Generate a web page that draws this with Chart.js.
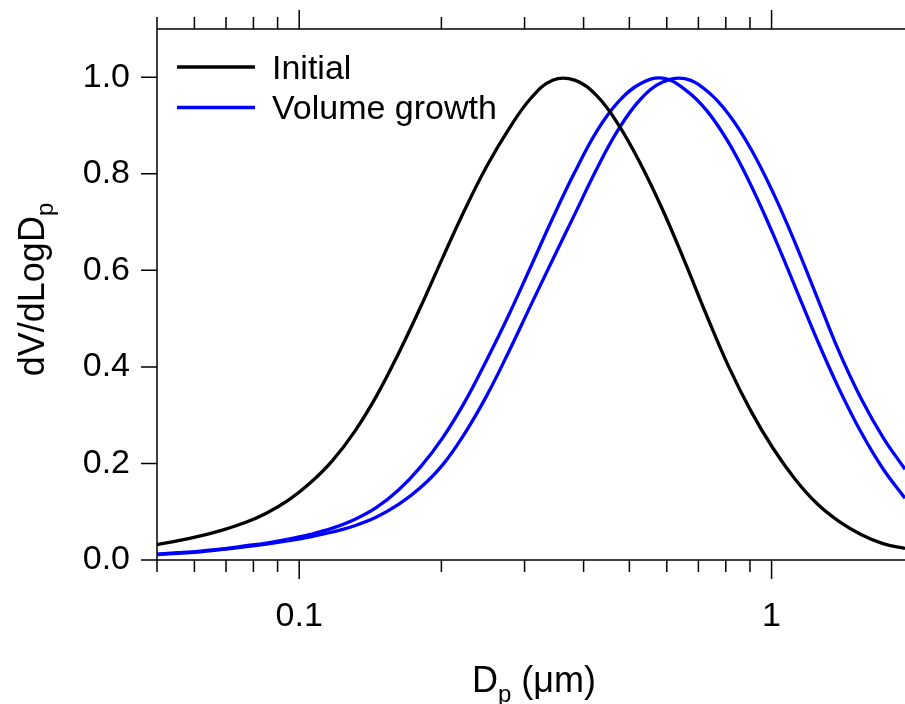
<!DOCTYPE html>
<html>
<head>
<meta charset="utf-8">
<script src="https://cdn.jsdelivr.net/npm/chart.js@4.4.1/dist/chart.umd.min.js"></script>
<style>
  html, body { margin: 0; padding: 0; background: #fff; }
  #wrap { width: 905px; height: 704px; position: relative; }
</style>
</head>
<body>
<div id="wrap"><canvas id="sizeDist"></canvas></div>
<script>
// Dp in um (evenly spaced in log), dV/dlogDp normalised to peak = 1
const dpGrid = [0.05, 0.0555, 0.0618, 0.0688, 0.0766, 0.0852, 0.0949, 0.1056, 0.1176, 0.131,
    0.1458, 0.1623, 0.1807, 0.2012, 0.224, 0.2493, 0.2776, 0.309, 0.344, 0.383,
    0.4264, 0.4747, 0.5285, 0.5883, 0.655, 0.7292, 0.8118, 0.9038, 1.0064, 1.1205,
    1.2474, 1.3888, 1.5461, 1.7213, 1.9163];

const initialVol = [0.032, 0.040, 0.050, 0.062, 0.077, 0.097, 0.124, 0.160, 0.206, 0.266,
    0.340, 0.428, 0.524, 0.626, 0.725, 0.815, 0.892, 0.956, 0.994, 0.994,
    0.962, 0.901, 0.820, 0.725, 0.618, 0.506, 0.400, 0.309, 0.232, 0.168,
    0.117, 0.080, 0.053, 0.034, 0.024];

// volume growth, smaller shift
const growthVol = [0.012, 0.015, 0.0185, 0.023, 0.029, 0.035, 0.043, 0.053, 0.066, 0.084,
    0.109, 0.145, 0.193, 0.253, 0.327, 0.414, 0.507, 0.607, 0.708, 0.803,
    0.888, 0.950, 0.987, 0.998, 0.975, 0.931, 0.864, 0.777, 0.676, 0.567,
    0.457, 0.355, 0.265, 0.189, 0.128];

// volume growth, larger shift
const growthVol2 = [0.011, 0.014, 0.017, 0.022, 0.027, 0.033, 0.040, 0.048, 0.058, 0.071,
    0.089, 0.115, 0.150, 0.197, 0.262, 0.340, 0.431, 0.527, 0.622, 0.716,
    0.810, 0.893, 0.955, 0.990, 0.997, 0.972, 0.923, 0.852, 0.762, 0.658,
    0.545, 0.432, 0.335, 0.254, 0.188];

const xLabelTicks = [0.1, 1];
const yTicks = [0, 0.2, 0.4, 0.6, 0.8, 1.0];

const FONT = '"Liberation Sans", Arial, Helvetica, sans-serif';

function pts(xs, ys) {
    return xs.map((v, i) => ({ x: v, y: ys[i] }));
}

// 1..9 x 10^n inside the axis range, 1 x 10^n flagged as major
function logTicks(min, max) {
    const out = [];
    for (let e = Math.floor(Math.log10(min)); e <= Math.ceil(Math.log10(max)); e++) {
        for (let k = 1; k <= 9; k++) {
            const v = parseFloat((k * Math.pow(10, e)).toPrecision(6));
            if (v >= min - 1e-9 && v <= max + 1e-9) out.push({ value: v, major: k === 1 });
        }
    }
    return out;
}

// Igor-style box: left/bottom/top axes with outside ticks, titles, legend
const igorFrame = {
    id: 'igorFrame',
    afterDraw(chart) {
        const { ctx, chartArea: a, scales: { x, y } } = chart;
        ctx.save();
        ctx.strokeStyle = '#000';
        ctx.lineWidth = 1.5;

        ctx.beginPath();
        ctx.moveTo(a.left, a.top);
        ctx.lineTo(a.left, a.bottom);
        ctx.moveTo(a.left - 16, a.bottom);
        ctx.lineTo(a.right, a.bottom);
        ctx.moveTo(a.left, a.top);
        ctx.lineTo(a.right, a.top);

        x.ticks.forEach(t => {
            const px = x.getPixelForValue(t.value);
            const len = t.major ? 19 : 12;
            ctx.moveTo(px, a.bottom);
            ctx.lineTo(px, a.bottom + len);
            ctx.moveTo(px, a.top);
            ctx.lineTo(px, a.top - len);
        });
        y.ticks.forEach(t => {
            const py = y.getPixelForValue(t.value);
            ctx.moveTo(a.left - 16, py);
            ctx.lineTo(a.left, py);
        });
        ctx.stroke();

        ctx.fillStyle = '#000';
        ctx.textAlign = 'left';
        ctx.textBaseline = 'alphabetic';

        // y title, rotated, with subscript p
        const big = '36px ' + FONT, small = '24px ' + FONT;
        ctx.font = big;
        const yMain = 'dV/dLogD';
        const wMain = ctx.measureText(yMain).width;
        ctx.font = small;
        const wSub = ctx.measureText('p').width;
        ctx.save();
        ctx.translate(44, (a.top + a.bottom) / 2 - 5 + (wMain + wSub) / 2);
        ctx.rotate(-Math.PI / 2);
        ctx.font = big;
        ctx.fillText(yMain, 0, 0);
        ctx.font = small;
        ctx.fillText('p', wMain, 9);
        ctx.restore();

        // x title: D_p (um)
        ctx.font = big;
        const wD = ctx.measureText('D').width;
        const wRest = ctx.measureText(' (\u03bcm)').width;
        const tx = 534 - (wD + wSub + wRest) / 2;
        const ty = 692;
        ctx.fillText('D', tx, ty);
        ctx.font = small;
        ctx.fillText('p', tx + wD, ty + 10);
        ctx.font = big;
        ctx.fillText(' (\u03bcm)', tx + wD + wSub, ty);

        // legend
        ctx.font = '34px ' + FONT;
        ctx.lineWidth = 3.5;
        let row = 0;
        chart.data.datasets.forEach(ds => {
            if (ds.inLegend === false) return;
            const ly = a.top + 38 + row * 40.6;
            ctx.strokeStyle = ds.borderColor;
            ctx.beginPath();
            ctx.moveTo(a.left + 20, ly);
            ctx.lineTo(a.left + 98, ly);
            ctx.stroke();
            ctx.fillText(ds.label, a.left + 115, ly + 11.7);
            row++;
        });
        ctx.restore();
    }
};

const lineStyle = {
    borderWidth: 3.3,
    pointRadius: 0,
    fill: false,
    tension: 0.4
};

new Chart(document.getElementById('sizeDist'), {
    type: 'line',
    data: {
        datasets: [
            Object.assign({ label: 'Initial', data: pts(dpGrid, initialVol), borderColor: '#000000' }, lineStyle),
            Object.assign({ label: 'Volume growth', data: pts(dpGrid, growthVol), borderColor: '#0000ff' }, lineStyle),
            Object.assign({ label: 'Volume growth', data: pts(dpGrid, growthVol2), borderColor: '#0000ff', inLegend: false }, lineStyle)
        ]
    },
    options: {
        responsive: true,
        maintainAspectRatio: false,
        animation: false,
        events: [],
        layout: { padding: { top: 29, right: 0, left: 0, bottom: 0 } },
        plugins: {
            legend: { display: false },
            tooltip: { enabled: false }
        },
        scales: {
            x: {
                type: 'logarithmic',
                min: 0.05,
                max: 1.9163,
                afterFit: s => {
                    s.height = 144;
                    s.paddingLeft = 0;
                    s.paddingRight = 0;
                },
                afterBuildTicks: s => { s.ticks = logTicks(s.min, s.max); },
                grid: { display: false, drawTicks: false },
                border: { display: false },
                ticks: {
                    autoSkip: false,
                    maxRotation: 0,
                    minRotation: 0,
                    padding: 36,
                    color: '#000',
                    font: { family: FONT, size: 34 },
                    callback: v => xLabelTicks.some(t => Math.abs(t - v) < 1e-9) ? String(v) : ''
                }
            },
            y: {
                type: 'linear',
                min: 0,
                max: 1.1,
                afterFit: s => {
                    s.width = 157;
                    s.paddingTop = 0;
                    s.paddingBottom = 0;
                },
                afterBuildTicks: s => { s.ticks = yTicks.map(v => ({ value: v })); },
                grid: { display: false, drawTicks: false },
                border: { display: false },
                ticks: {
                    padding: 27,
                    color: '#000',
                    font: { family: FONT, size: 34 },
                    callback: v => v.toFixed(1)
                }
            }
        }
    },
    plugins: [igorFrame]
});
</script>
</body>
</html>
